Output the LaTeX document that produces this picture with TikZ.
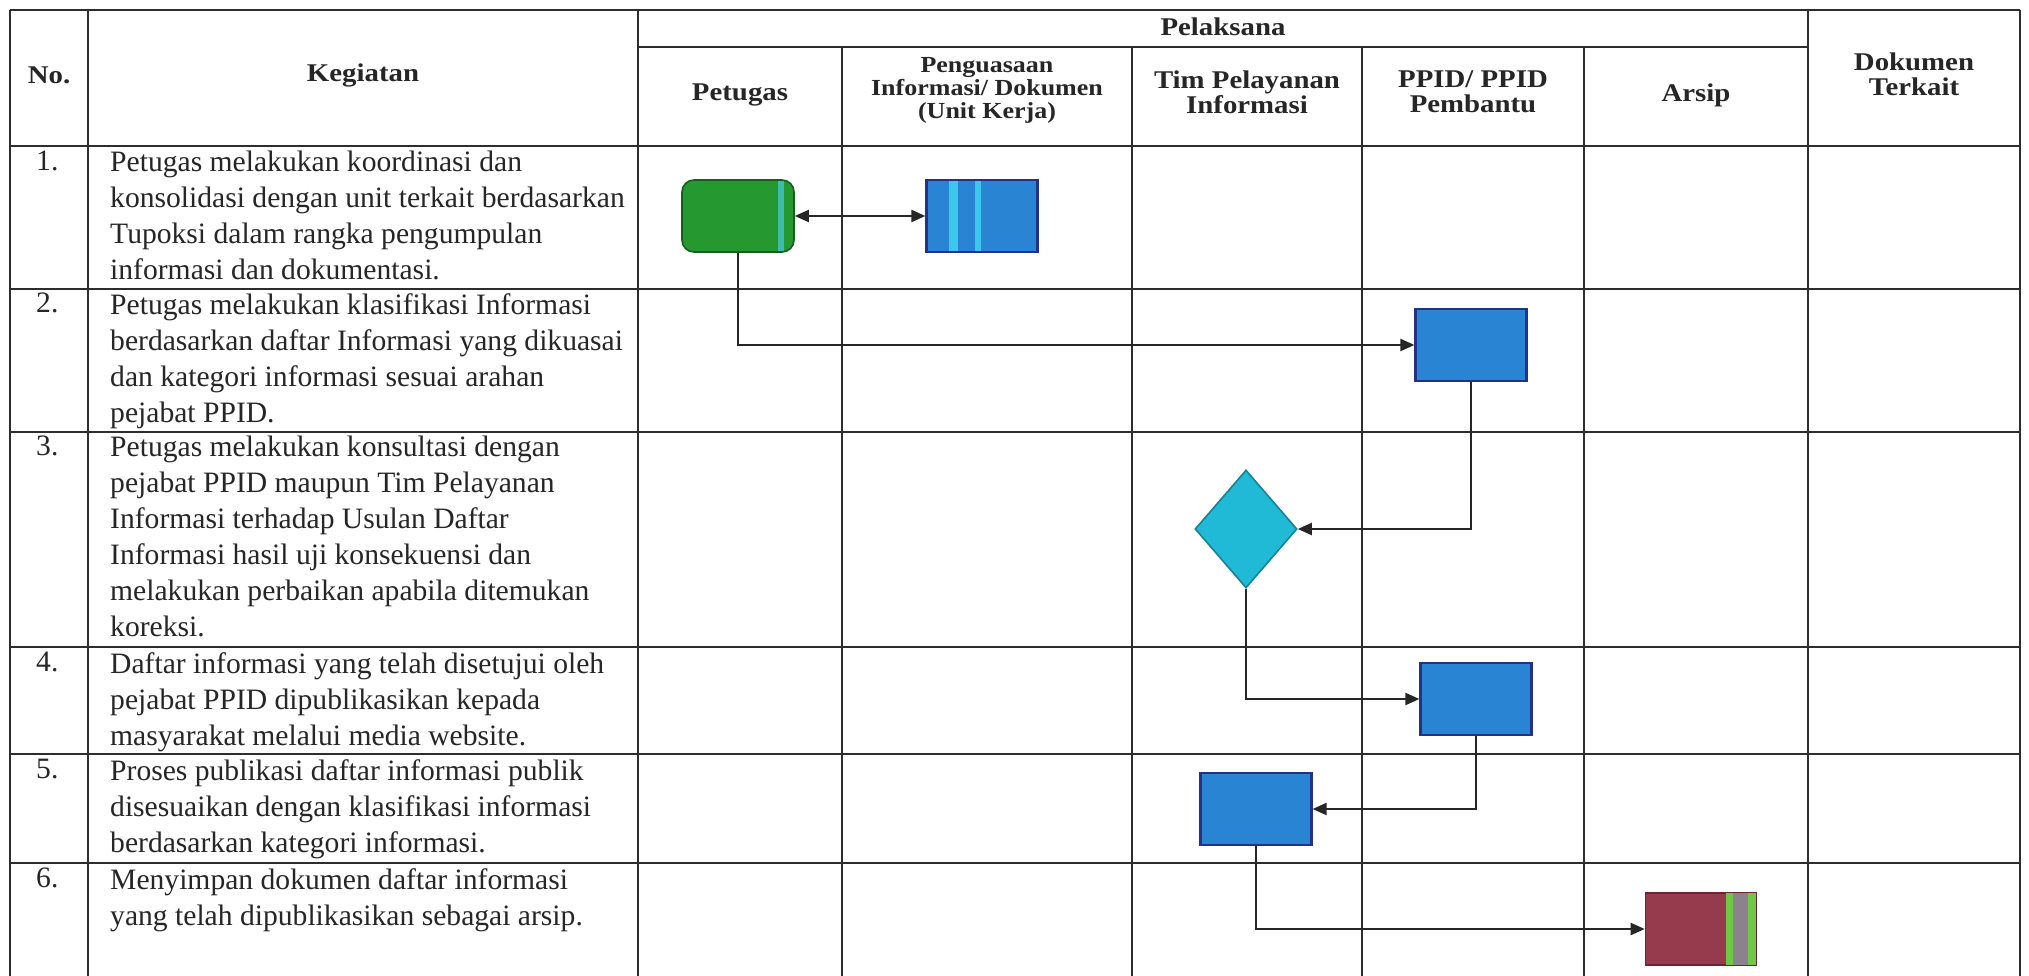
\documentclass[tikz,border=0pt]{standalone}
\usepackage{fontspec}
\setmainfont{Liberation Serif}
\newfontfamily\headfont{Liberation Serif}[FakeStretch=1.13]
\usetikzlibrary{arrows.meta,shapes.geometric}
\definecolor{gridc}{RGB}{45,45,45}
\definecolor{greenf}{RGB}{38,152,48}
\definecolor{greend}{RGB}{20,95,30}
\definecolor{greens}{RGB}{60,190,170}
\definecolor{bluef}{RGB}{42,132,212}
\definecolor{blued}{RGB}{35,50,135}
\definecolor{blues}{RGB}{60,200,235}
\definecolor{cyanf}{RGB}{32,186,214}
\definecolor{cyand}{RGB}{22,130,150}
\definecolor{arsipf}{RGB}{150,58,78}
\definecolor{arsipd}{RGB}{110,35,50}
\definecolor{arsipg}{RGB}{110,200,70}
\definecolor{arsipy}{RGB}{140,130,140}
\begin{document}
\begin{tikzpicture}[x=1pt,y=-1pt,
  hline/.style={line width=2.4pt,draw=gridc},
  vline/.style={line width=1.4pt,draw=gridc},
  body/.style={font=\fontsize{29.6}{36}\selectfont,align=left,anchor=north west,inner sep=0pt,text=black!85},
  head/.style={font=\headfont\bfseries\fontsize{25.5}{25}\selectfont,align=center,inner sep=0pt,text=black!85},
  headsmall/.style={font=\headfont\bfseries\fontsize{23}{23}\selectfont,align=center,inner sep=0pt,text=black!85},
  proc/.style={rectangle,draw=blued,fill=bluef,line width=2.2pt,minimum width=111pt,minimum height=72pt,inner sep=0pt},
  start/.style={rectangle,rounded corners=12pt,draw=greend,fill=greenf,line width=1.6pt,minimum width=112pt,minimum height=72pt,inner sep=0pt},
  decide/.style={diamond,draw=cyand,fill=cyanf,line width=1.6pt,minimum width=102pt,minimum height=118pt,inner sep=0pt,aspect=0.86},
  store/.style={rectangle,draw=arsipd,fill=arsipf,line width=1.6pt,minimum width=111pt,minimum height=72pt,inner sep=0pt},
  flow/.style={line width=2.2pt,draw=black!85,-{Triangle[length=14pt,width=12pt]}},
  flowboth/.style={line width=2.2pt,draw=black!85,{Triangle[length=14pt,width=12pt]}-{Triangle[length=14pt,width=12pt]}}
]
\useasboundingbox (0,0) rectangle (2029,976);
\fill[white] (0,0) rectangle (2029,976);

% table grid
\foreach \yy in {10,146,289,432,647,754,863} {\draw[hline] (10,\yy) -- (2020,\yy);}
\draw[hline] (638,47) -- (1808,47);
\foreach \xx in {10,88,638,1808,2020} {\draw[vline] (\xx,10) -- (\xx,976);}
\foreach \xx in {842,1132,1362,1584} {\draw[vline] (\xx,47) -- (\xx,976);}

% header
\node[head] (hno) at (49,75) {No.};
\node[head] (hkeg) at (363,75) {Kegiatan};
\node[head] (hpel) at (1223,27) {Pelaksana};
\node[head] (hpet) at (740,95) {Petugas};
\node[headsmall] (hpen) at (987,90) {Penguasaan\\Informasi/ Dokumen\\(Unit Kerja)};
\node[head] (htim) at (1247,92) {Tim Pelayanan\\Informasi};
\node[head] (hppid) at (1473,92) {PPID/ PPID\\Pembantu};
\node[head] (hars) at (1696,95) {Arsip};
\node[head] (hdok) at (1914,74) {Dokumen\\Terkait};

% rows
\node[body] (n1) at (36,151) {1.};
\node[body] (t1) at (110,151) {Petugas melakukan koordinasi dan\\konsolidasi dengan unit terkait berdasarkan\\Tupoksi dalam rangka pengumpulan\\informasi dan dokumentasi.};
\node[body] (n2) at (36,293) {2.};
\node[body] (t2) at (110,293) {Petugas melakukan klasifikasi Informasi\\berdasarkan daftar Informasi yang dikuasai\\dan kategori informasi sesuai arahan\\pejabat PPID.};
\node[body] (n3) at (36,436) {3.};
\node[body] (t3) at (110,436) {Petugas melakukan konsultasi dengan\\pejabat PPID maupun Tim Pelayanan\\Informasi terhadap Usulan Daftar\\Informasi hasil uji konsekuensi dan\\melakukan perbaikan apabila ditemukan\\koreksi.};
\node[body] (n4) at (36,652) {4.};
\node[body] (t4) at (110,652) {Daftar informasi yang telah disetujui oleh\\pejabat PPID dipublikasikan kepada\\masyarakat melalui media website.};
\node[body] (n5) at (36,759) {5.};
\node[body] (t5) at (110,759) {Proses publikasi daftar informasi publik\\disesuaikan dengan klasifikasi informasi\\berdasarkan kategori informasi.};
\node[body] (n6) at (36,868) {6.};
\node[body] (t6) at (110,868) {Menyimpan dokumen daftar informasi\\yang telah dipublikasikan sebagai arsip.};

% flow shapes
\node[start] (g1) at (738,216) {};
\node[proc] (b1) at (982,216) {};
\node[proc] (b2) at (1471,345) {};
\node[decide] (d3) at (1246,529) {};
\node[proc] (b4) at (1476,699) {};
\node[proc] (b5) at (1256,809) {};
\node[store] (a6) at (1701,929) {};

% colour strips inside shapes
\fill[greens] ([xshift=-17pt,yshift=-2pt]g1.north east) rectangle ([xshift=-11pt,yshift=2pt]g1.south east);
\fill[blues] ([xshift=24pt,yshift=-2pt]b1.north west) rectangle ([xshift=33pt,yshift=2pt]b1.south west);
\fill[blues] ([xshift=50pt,yshift=-2pt]b1.north west) rectangle ([xshift=56pt,yshift=2pt]b1.south west);
\fill[arsipg] ([xshift=-31pt,yshift=-1pt]a6.north east) rectangle ([xshift=-24pt,yshift=1pt]a6.south east);
\fill[arsipy] ([xshift=-24pt,yshift=-1pt]a6.north east) rectangle ([xshift=-9pt,yshift=1pt]a6.south east);
\fill[arsipg] ([xshift=-9pt,yshift=-1pt]a6.north east) rectangle ([xshift=-1pt,yshift=1pt]a6.south east);

% connectors
\draw[flowboth] (g1.east) -- (b1.west);
\draw[flow] (g1.south) |- (b2.west);
\draw[flow] (b2.south) |- (d3.east);
\draw[flow] (d3.south) |- (b4.west);
\draw[flow] (b4.south) |- (b5.east);
\draw[flow] (b5.south) |- (a6.west);
\end{tikzpicture}
\end{document}
